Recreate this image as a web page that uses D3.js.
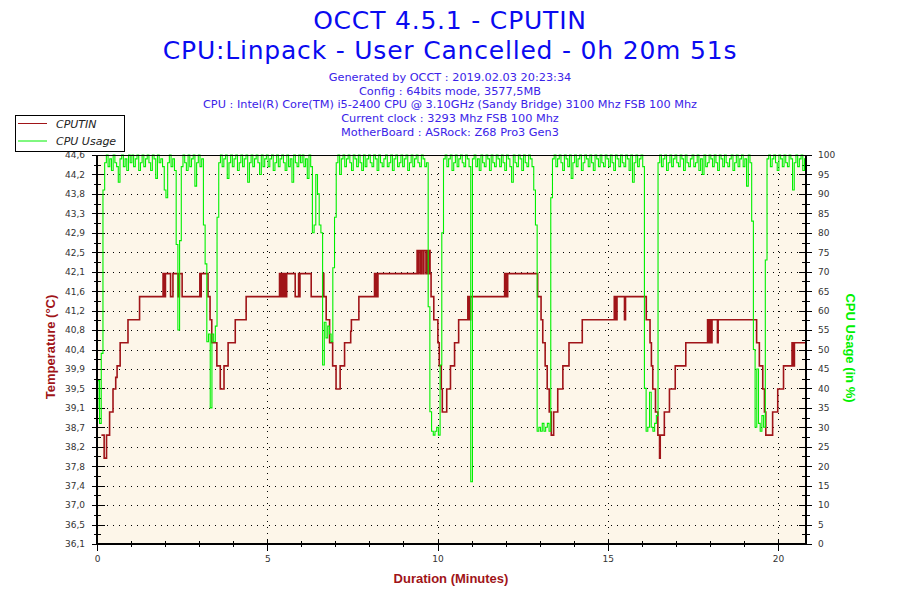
<!DOCTYPE html>
<html><head><meta charset="utf-8">
<script src="https://cdn.jsdelivr.net/npm/d3@7"></script>
<style>body{margin:0;background:#fff}svg{display:block}</style>
</head><body>
<svg id="c" width="900" height="600"></svg>
<script>
// ---------- data ----------
const titleLines = ["OCCT 4.5.1 - CPUTIN", "CPU:Linpack - User Cancelled - 0h 20m 51s"];
const infoLines = [
  "Generated by OCCT : 2019.02.03 20:23:34",
  "Config : 64bits mode, 3577,5MB",
  "CPU : Intel(R) Core(TM) i5-2400 CPU @ 3.10GHz (Sandy Bridge) 3100 Mhz FSB 100 Mhz",
  "Current clock : 3293 Mhz FSB 100 Mhz",
  "MotherBoard : ASRock: Z68 Pro3 Gen3"
];
const seriesNames = ["CPUTIN", "CPU Usage"];
const tempTickLabels = ["36,1","36,5","37,0","37,4","37,8","38,2","38,7","39,1","39,5","39,9","40,4",
  "40,8","41,2","41,6","42,1","42,5","42,9","43,3","43,8","44,2","44,6"];
const tempDomain = [36.14, 44.57];
const cpuTicks = [0,5,10,15,20,25,30,35,40,45,50,55,60,65,70,75,80,85,90,95,100];
const durationTicks = [0,5,10,15,20];
const durationMinorTicks = [1,2,3,4,6,7,8,9,11,12,13,14,16,17,18,19];
const durationEnd = 20.82;

// CPUTIN temperature: [minute, °C] change points (step series)
const cputin = [
[0.13,38.5],[0.21,38.0],[0.28,38.5],[0.37,39.0],[0.47,39.5],[0.55,39.75],[0.59,40.0],[0.68,40.5],[0.91,41.0],[1.25,41.5],
[1.94,42.0],[1.98,41.5],[2.01,42.0],[2.16,41.5],[2.23,42.0],[2.38,41.5],[2.42,42.0],[2.50,41.5],
[3.02,42.0],[3.04,41.5],[3.06,42.0],[3.26,41.5],[3.32,41.0],[3.37,40.5],[3.52,40.0],[3.62,39.5],[3.73,40.0],[3.85,40.5],[4.06,41.0],[4.38,41.5],
[5.36,42.0],[5.38,41.5],[5.40,42.0],[5.43,41.5],[5.46,42.0],[5.48,41.5],[5.51,42.0],[5.55,41.5],[5.57,42.0],[5.82,41.5],[5.92,42.0],[5.94,41.5],[5.96,42.0],[6.29,41.5],
[6.63,42.0],[6.66,41.5],[6.73,41.0],[6.83,40.5],[6.92,40.0],[7.02,39.5],[7.14,40.0],[7.27,40.5],[7.45,40.75],[7.47,41.0],[7.69,41.5],
[8.15,42.0],[8.17,41.5],[8.20,42.0],[8.22,41.5],[8.25,42.0],
[9.40,42.5],[9.42,42.0],[9.45,42.5],[9.50,42.0],[9.53,42.5],[9.58,42.0],[9.60,42.5],[9.66,42.0],[9.70,42.5],[9.73,42.0],[9.76,42.5],[9.78,42.0],
[9.81,41.5],[9.89,41.0],[10.01,40.5],[10.05,40.0],[10.11,39.5],[10.14,39.0],[10.27,39.5],[10.38,40.0],[10.50,40.5],[10.62,41.0],
[10.89,41.5],[10.92,41.0],[10.94,41.5],[10.96,41.0],[10.97,41.5],
[11.97,42.0],[11.99,41.5],[12.01,42.0],[12.04,41.5],[12.06,42.0],
[12.94,41.5],[13.04,41.0],[13.09,40.5],[13.16,40.0],[13.22,39.5],[13.28,39.0],[13.34,38.5],[13.41,39.0],[13.53,39.5],[13.68,40.0],[13.86,40.5],[14.25,41.0],
[15.19,41.5],[15.21,41.0],[15.23,41.5],[15.25,41.0],[15.27,41.5],[15.49,41.0],[15.52,41.5],
[16.13,41.0],[16.24,40.5],[16.28,40.0],[16.32,39.5],[16.40,39.0],[16.47,38.5],[16.52,38.0],[16.54,38.5],[16.66,39.0],[16.81,39.5],[16.98,40.0],[17.29,40.5],
[17.93,41.0],[17.95,40.5],[17.97,41.0],[18.00,40.5],[18.02,41.0],[18.04,40.5],[18.06,41.0],[18.22,40.5],[18.24,41.0],
[19.37,40.5],[19.45,40.0],[19.55,39.5],[19.60,39.0],[19.64,38.5],[19.84,39.0],[19.99,39.5],[20.16,40.0],
[20.41,40.5],[20.43,40.0],[20.45,40.5],[20.46,40.0],[20.48,40.5],[20.82,40.5]
];

// CPU usage (%) sampled every 0.05 minute, one row per minute
const cpuStep = 0.05;
const cpuUsage = [
 35,42,31,49,91,98,100,97,99,96,100,98,97,93,99,100,97,99,96,100,
 98,100,97,99,100,96,98,100,97,99,100,98,96,100,99,94,100,98,99,97,
 91,89,98,100,97,99,96,77,55,78,97,100,98,96,100,97,99,100,92,98,
 100,97,99,82,72,52,54,35,54,52,56,84,98,100,97,99,100,94,98,100,
 97,99,100,96,98,100,97,99,100,93,98,100,97,99,100,98,95,100,97,99,
 100,97,99,100,96,98,100,97,99,100,98,96,100,97,99,93,100,98,97,100,
 98,100,97,99,94,100,97,80,82,95,90,82,80,46,57,53,56,54,52,71,
 84,98,100,95,99,100,97,99,100,98,96,100,99,97,100,98,96,100,97,99,
 100,98,97,100,99,96,100,98,97,99,100,97,98,100,96,99,100,97,98,100,
 97,99,100,96,98,100,97,99,100,98,97,100,99,97,98,61,34,29,28,29,
 30,28,46,80,99,100,97,99,100,96,98,100,97,99,100,98,97,100,99,97,
 16,99,100,97,99,96,100,98,97,100,99,96,100,98,97,100,99,97,100,98,
 96,100,99,97,93,100,98,97,100,99,96,100,98,97,100,99,97,91,82,29,
 30,29,31,29,30,31,29,89,99,100,97,99,100,98,96,100,99,97,100,94,
 98,100,97,99,100,96,98,100,99,97,100,98,96,100,99,97,100,98,97,100,
 99,97,100,98,96,100,99,97,100,98,97,100,99,96,100,93,98,100,97,99,
 100,97,40,29,30,39,30,29,31,33,98,100,97,99,100,96,98,100,97,99,
 100,98,97,100,99,96,100,98,97,99,100,97,98,100,96,99,95,100,97,98,
 100,99,97,100,98,96,100,99,97,100,98,97,99,100,96,98,100,97,99,100,
 97,99,92,100,98,83,50,30,45,31,29,33,30,73,99,100,97,99,100,98,
 96,100,99,97,100,98,97,100,99,91,98,100,97,99,100,96,99
];

// ---------- drawing ----------
const plot = {left:97, right:806, top:155, bottom:544};
const RED = "#a01418", GREEN = "#00f000";
const svg = d3.select("#c");

const x = d3.scaleLinear().domain([0, durationEnd]).range([plot.left, plot.right]);
const yT = d3.scaleLinear().domain(tempDomain).range([plot.bottom, plot.top]);
const yTi = d3.scaleLinear().domain([0, tempTickLabels.length-1]).range([plot.bottom, plot.top]);
const yC = d3.scaleLinear().domain([0, 100]).range([plot.bottom, plot.top]);

// plot background
svg.append("rect").attr("x",plot.left).attr("y",plot.top)
  .attr("width",plot.right-plot.left).attr("height",plot.bottom-plot.top).attr("fill","#fdf6e9");

// grid
const grid = svg.append("g").attr("stroke","#000").attr("stroke-width",1)
  .attr("stroke-dasharray","1,5").attr("shape-rendering","crispEdges");
grid.selectAll("line.h").data(cpuTicks.slice(1,-1)).join("line")
  .attr("x1",plot.left+4).attr("x2",plot.right).attr("y1",d=>Math.round(yC(d))+0.5).attr("y2",d=>Math.round(yC(d))+0.5);
grid.selectAll("line.v").data(durationTicks.slice(1)).join("line")
  .attr("y1",plot.top).attr("y2",plot.bottom).attr("x1",d=>Math.round(x(d))+0.5).attr("x2",d=>Math.round(x(d))+0.5);

// axes
const tickFont = g => g.selectAll("text").attr("font-family","DejaVu Sans, Verdana, sans-serif")
  .attr("font-size","9px").attr("fill","#333");
const styleAxis = g => { g.selectAll("line").attr("stroke","#000").attr("shape-rendering","crispEdges");
  g.select(".domain").remove(); };

const tIdx = tempTickLabels.map((d,i)=>i);
const tMinor = tempTickLabels.slice(1).map((d,i)=>i+0.5);
// left
svg.append("g").attr("transform",`translate(${plot.left},0)`)
  .call(d3.axisLeft(yTi).tickValues(tIdx).tickFormat(i=>tempTickLabels[i]).tickSize(5).tickPadding(7))
  .call(styleAxis).call(tickFont);
svg.append("g").attr("transform",`translate(${plot.left},0)`)
  .call(d3.axisLeft(yTi).tickValues(tIdx).tickFormat("").tickSize(-8)).call(styleAxis);
svg.append("g").attr("transform",`translate(${plot.left},0)`)
  .call(d3.axisLeft(yTi).tickValues(tMinor).tickFormat("").tickSize(3)).call(styleAxis);
svg.append("g").attr("transform",`translate(${plot.left},0)`)
  .call(d3.axisLeft(yTi).tickValues(tMinor).tickFormat("").tickSize(-4)).call(styleAxis);
// right
const cMinor = cpuTicks.slice(1).map(d=>d-2.5);
svg.append("g").attr("transform",`translate(${plot.right},0)`)
  .call(d3.axisRight(yC).tickValues(cpuTicks).tickSize(6).tickPadding(6))
  .call(styleAxis).call(tickFont);
svg.append("g").attr("transform",`translate(${plot.right},0)`)
  .call(d3.axisRight(yC).tickValues(cpuTicks).tickFormat("").tickSize(-7)).call(styleAxis);
svg.append("g").attr("transform",`translate(${plot.right},0)`)
  .call(d3.axisRight(yC).tickValues(cMinor).tickFormat("").tickSize(4)).call(styleAxis);
svg.append("g").attr("transform",`translate(${plot.right},0)`)
  .call(d3.axisRight(yC).tickValues(cMinor).tickFormat("").tickSize(-4)).call(styleAxis);
// bottom
svg.append("g").attr("transform",`translate(0,${plot.bottom})`)
  .call(d3.axisBottom(x).tickValues(durationTicks).tickSize(7).tickPadding(5))
  .call(styleAxis).call(tickFont);
svg.append("g").attr("transform",`translate(0,${plot.bottom})`)
  .call(d3.axisBottom(x).tickValues(durationTicks.slice(1)).tickFormat("").tickSize(-5)).call(styleAxis);
svg.append("g").attr("transform",`translate(0,${plot.bottom})`)
  .call(d3.axisBottom(x).tickValues(durationMinorTicks).tickFormat("").tickSize(3)).call(styleAxis);
svg.append("g").attr("transform",`translate(0,${plot.bottom})`)
  .call(d3.axisBottom(x).tickValues(durationMinorTicks).tickFormat("").tickSize(-3)).call(styleAxis);

// temperature step line
const tLine = d3.line().x(d=>x(d[0])).y(d=>yT(d[1])).curve(d3.curveStepAfter);
svg.append("path").datum(cputin).attr("d",tLine).attr("fill","none")
  .attr("stroke",RED).attr("stroke-width",1.6);

// CPU usage line (sample-and-hold, vertical transitions like the original)
const cLine = d3.line().x((d,i)=>x(i*cpuStep)).y(d=>yC(d)).curve(d3.curveStep);
svg.append("path").datum(cpuUsage).attr("d",cLine).attr("fill","none")
  .attr("stroke",GREEN).attr("stroke-width",1.1);

// frame
const frame = svg.append("g").attr("stroke","#000").attr("shape-rendering","crispEdges");
frame.append("line").attr("x1",plot.left).attr("x2",plot.right).attr("y1",plot.top+0.5).attr("y2",plot.top+0.5).attr("stroke-width",1);
frame.append("line").attr("x1",plot.left-1).attr("x2",plot.right+1).attr("y1",plot.bottom).attr("y2",plot.bottom).attr("stroke-width",2);
frame.append("line").attr("x1",plot.left).attr("x2",plot.left).attr("y1",plot.top).attr("y2",plot.bottom).attr("stroke-width",2);
frame.append("line").attr("x1",plot.right).attr("x2",plot.right).attr("y1",plot.top).attr("y2",plot.bottom).attr("stroke-width",2);

// titles
svg.selectAll("text.title").data(titleLines).join("text").attr("class","title")
  .attr("x",450).attr("y",(d,i)=>29+i*30).attr("text-anchor","middle")
  .attr("font-family","DejaVu Sans, Verdana, sans-serif").attr("font-size","25px")
  .attr("letter-spacing","0.8px").attr("fill","#0a0af0").text(d=>d);
svg.selectAll("text.info").data(infoLines).join("text").attr("class","info")
  .attr("x",450).attr("y",(d,i)=>81+i*13.7).attr("text-anchor","middle")
  .attr("font-family","DejaVu Sans, Verdana, sans-serif").attr("font-size","11.3px")
  .attr("fill","#3a22e8").text(d=>d);

// axis titles
svg.append("text").attr("x",451).attr("y",583).attr("text-anchor","middle")
  .attr("font-family","Liberation Sans, Arial, sans-serif").attr("font-weight","bold")
  .attr("font-size","13px").attr("fill",RED).text("Duration (Minutes)");
svg.append("text").attr("transform","translate(50,347) rotate(-90)").attr("text-anchor","middle")
  .attr("dominant-baseline","central")
  .attr("font-family","Liberation Sans, Arial, sans-serif").attr("font-weight","bold")
  .attr("font-size","13px").attr("fill",RED).text("Temperature (°C)");
svg.append("text").attr("transform","translate(850,348) rotate(90)").attr("text-anchor","middle")
  .attr("dominant-baseline","central")
  .attr("font-family","Liberation Sans, Arial, sans-serif").attr("font-weight","bold")
  .attr("font-size","13px").attr("fill",GREEN).text("CPU Usage (in %)");

// legend
const lg = svg.append("g");
lg.append("rect").attr("x",15.5).attr("y",115.5).attr("width",109).attr("height",36)
  .attr("fill","#fff").attr("stroke","#000").attr("stroke-width",1);
const lgColors = [RED, GREEN];
lg.selectAll("line.l").data(seriesNames).join("line")
  .attr("x1",18).attr("x2",47).attr("y1",(d,i)=>123.5+i*17.5).attr("y2",(d,i)=>123.5+i*17.5)
  .attr("stroke",(d,i)=>lgColors[i]).attr("stroke-width",1);
lg.selectAll("text").data(seriesNames).join("text")
  .attr("x",56).attr("y",(d,i)=>127.5+i*17.5)
  .attr("font-family","DejaVu Sans, Verdana, sans-serif").attr("font-style","italic")
  .attr("font-size","11px").attr("fill","#222").text(d=>d);
</script>
</body></html>
